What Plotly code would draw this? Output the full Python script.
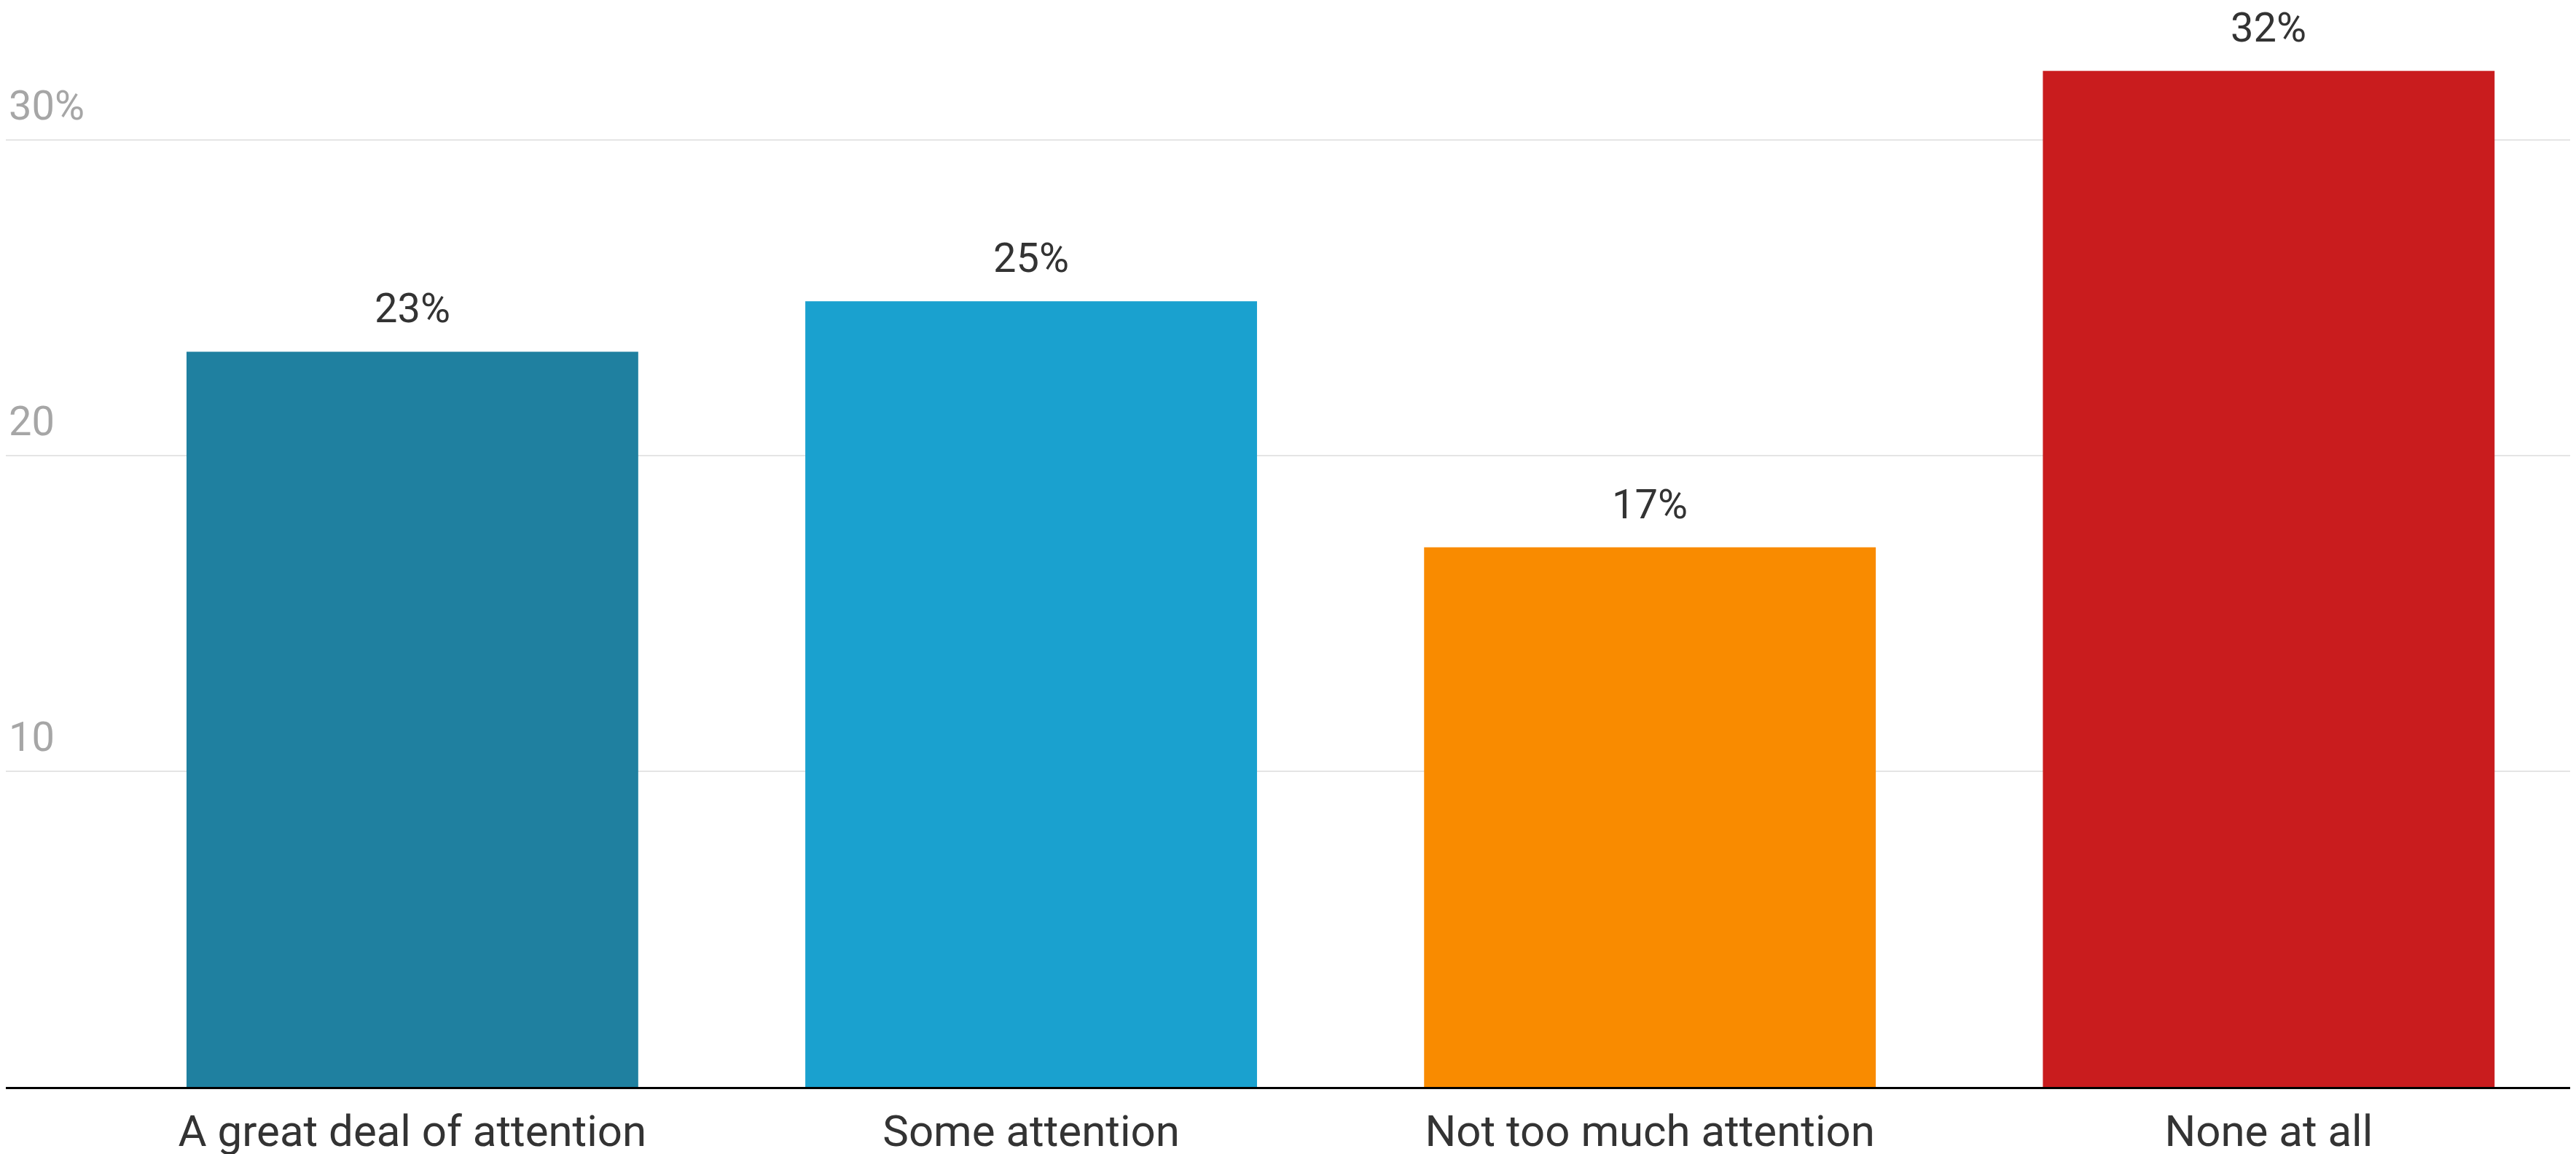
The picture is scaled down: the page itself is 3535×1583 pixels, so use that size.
import plotly.graph_objects as go

categories = ["A great deal of attention", "Some attention", "Not too much attention", "None at all"]
values = [23.3, 24.9, 17.1, 32.2]
value_labels = ["23%", "25%", "17%", "32%"]
bar_colors = ["#1f80a0", "#1aa1cf", "#f98b00", "#c91c1e"]
ytick_vals = [10, 20, 30]
ytick_text = ["10", "20", "30%"]

fig = go.Figure()
fig.add_trace(go.Bar(
    x=list(range(len(categories))), y=values,
    marker=dict(color=bar_colors, line=dict(width=0)),
    width=0.73, hoverinfo="skip",
))

for i, (v, t) in enumerate(zip(values, value_labels)):
    fig.add_annotation(x=i, y=v, text=t, showarrow=False, yanchor="bottom",
                       yshift=25, borderpad=0,
                       font=dict(family="Roboto", size=56, color="#333333"))

for v, t in zip(ytick_vals, ytick_text):
    fig.add_annotation(x=0, xref="paper", y=v, text=t, showarrow=False,
                       xanchor="left", yanchor="bottom", xshift=2, yshift=12,
                       font=dict(family="Roboto", size=56, color="#a6a6a6"))

fig.update_layout(
    width=3535, height=1583,
    margin=dict(l=0, r=0, t=0, b=100),
    paper_bgcolor="white", plot_bgcolor="white",
    showlegend=False,
    font=dict(family="Roboto", color="#333333"),
    xaxis=dict(
        tickmode="array", tickvals=list(range(len(categories))), ticktext=categories,
        range=[-0.657, 3.506], showgrid=False, zeroline=False,
        showline=True, linecolor="#000000", linewidth=3, ticks="",
        ticklabelstandoff=6,
        tickfont=dict(family="Roboto", size=60, color="#333333"),
    ),
    yaxis=dict(
        range=[0, 34.26], tickvals=ytick_vals, showticklabels=False,
        showgrid=True, gridcolor="#e5e5e5", gridwidth=2, zeroline=False,
        showline=False, ticks="",
    ),
)

fig.write_html("out.html")
